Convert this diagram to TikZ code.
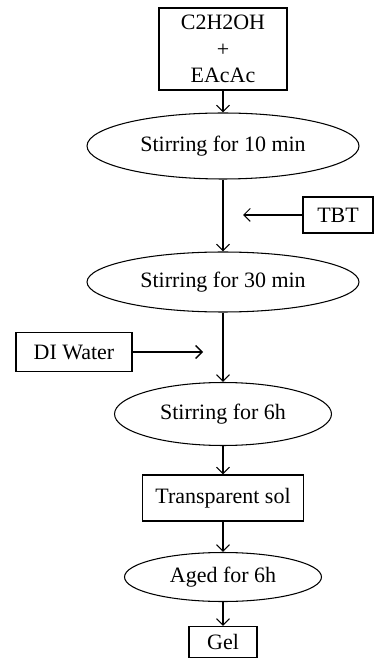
\documentclass[tikz,border=0pt]{standalone}
\usepackage{fontspec}
\setmainfont{Liberation Serif}
\usetikzlibrary{shapes.geometric, arrows.meta}

\tikzset{
  stepbox/.style={draw, semithick, rectangle, inner sep=0pt, align=center, font=\fontsize{12.5}{15}\selectfont},
  stepoval/.style={draw, semithick, ellipse, inner sep=0pt, font=\fontsize{12.5}{15}\selectfont},
  flow/.style={-{Straight Barb[length=1.3mm, width=2.6mm]}, semithick}
}

\begin{document}
\begin{tikzpicture}[x=0.02cm, y=-0.02cm]
\useasboundingbox (0,0) rectangle (379,661);

% Main steps
\node[stepbox, minimum width=2.56cm, minimum height=1.64cm] (mix) at (223,49) {C2H2OH\\+\\EAcAc};
\node[stepoval, minimum width=5.44cm, minimum height=1.32cm] (stirA) at (223,146) {Stirring for 10 min};
\node[stepoval, minimum width=5.44cm, minimum height=1.2cm] (stirB) at (223,282) {Stirring for 30 min};
\node[stepoval, minimum width=4.34cm, minimum height=1.26cm] (stirC) at (223,414) {Stirring for 6h};
\node[stepbox, minimum width=3.22cm, minimum height=0.92cm] (sol) at (223,498) {Transparent sol};
\node[stepoval, minimum width=3.94cm, minimum height=0.98cm] (aged) at (223,577) {Aged for 6h};
\node[stepbox, minimum width=1.36cm, minimum height=0.62cm] (gel) at (223,642) {Gel};

% Added reagents
\node[stepbox, minimum width=1.4cm, minimum height=0.72cm] (tbt) at (338,215) {TBT};
\node[stepbox, minimum width=2.32cm, minimum height=0.78cm] (water) at (74,352) {DI Water};
\coordinate (tbtin) at (243,215);
\coordinate (waterin) at (203,352);

% Flow
\draw[flow] (mix) -- (stirA);
\draw[flow] (stirA) -- (stirB);
\draw[flow] (stirB) -- (stirC);
\draw[flow] (stirC) -- (sol);
\draw[flow] (sol) -- (aged);
\draw[flow] (aged) -- (gel);
\draw[flow] (tbt) -- (tbtin);
\draw[flow, thick] (water) -- (waterin);

\end{tikzpicture}
\end{document}
